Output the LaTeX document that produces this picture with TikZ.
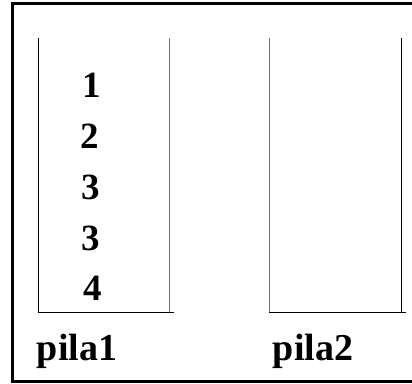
\documentclass[tikz,border=0pt]{standalone}
\usepackage{fontspec}
\setmainfont{Liberation Serif}
\usepackage{tikz}

\tikzset{
    pilaline/.style={line width=1pt},
    elem/.style={font=\fontsize{37}{37}\selectfont\bfseries, inner sep=0pt, anchor=base},
    pilaname/.style={font=\fontsize{38}{38}\selectfont\bfseries, inner sep=0pt, anchor=base}
}

\begin{document}
\begin{tikzpicture}[x=1pt,y=-1pt]
    \useasboundingbox (0,0) rectangle (412,383);

    % Draw the outer frame
    \draw[line width=3pt] (420,3) -- (12,3) -- (12,381) -- (420,381);

    % Draw the two stacks
    \coordinate (p1tl) at (38,38);
    \coordinate (p1bl) at (38,312);
    \coordinate (p1tr) at (169,38);
    \coordinate (p1br) at (169,312);
    \coordinate (p1end) at (174,312);
    \draw[pilaline] (p1tl) -- (p1bl) -- (p1end);
    \draw[pilaline, black!55] (p1tr) -- (p1br);

    \coordinate (p2tl) at (269,38);
    \coordinate (p2bl) at (269,312);
    \coordinate (p2tr) at (401,38);
    \coordinate (p2br) at (401,312);
    \coordinate (p2end) at (406,312);
    \draw[pilaline, black!55] (p2tl) -- (p2bl);
    \draw[pilaline] (p2bl) -- (p2end);
    \draw[pilaline] (p2tr) -- (p2br);

    % Elements in pila1
    \node[elem] (e1) at (92,97) {1};
    \node[elem] (e2) at (90,148) {2};
    \node[elem] (e3) at (91,199) {3};
    \node[elem] (e4) at (91,250) {3};
    \node[elem] (e5) at (93,300) {4};

    % Label the stacks
    \node[pilaname] (pila1) at (77,360) {pila1};
    \node[pilaname] (pila2) at (313,360) {pila2};
\end{tikzpicture}
\end{document}
